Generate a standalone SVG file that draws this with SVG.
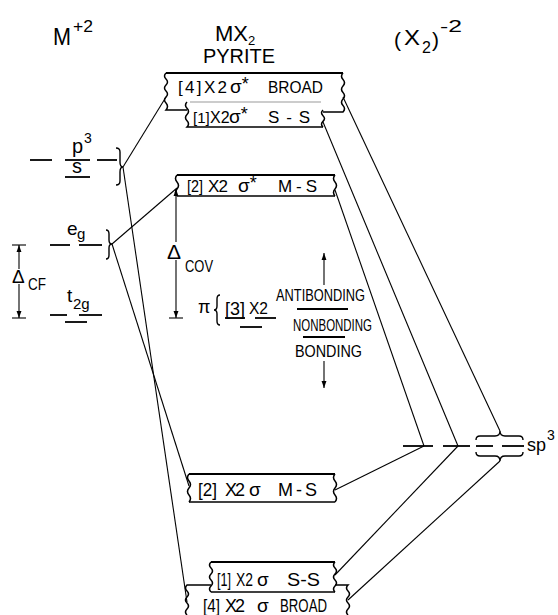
<svg xmlns="http://www.w3.org/2000/svg" width="558" height="615" viewBox="0 0 558 615">
<style>
  text{font-family:"Liberation Sans",Arial,sans-serif;fill:#000}
  .s16{font-size:17px}
  .s17{font-size:18px}
  .sg{font-size:19px}
  .top{stroke:#000;stroke-width:2.2;fill:none}
  .edge{stroke:#000;stroke-width:1.5;fill:none}
  .ln{stroke:#000;stroke-width:1.1;fill:none}
  .lvl{stroke:#000;stroke-width:1.8;fill:none}
  .br{stroke:#000;stroke-width:1.4;fill:none}
</style>
<defs>
  <marker id="ah" viewBox="0 0 8 8" refX="8" refY="4" markerWidth="7" markerHeight="7" markerUnits="userSpaceOnUse" orient="auto">
    <path d="M0,1.2 L8,4 L0,6.8 z" fill="#000"/>
  </marker>
</defs>
<rect width="558" height="615" fill="#fff"/>

<!-- headers -->
<g id="hdr-metal">
  <text x="53" y="45" font-size="24" textLength="18" lengthAdjust="spacingAndGlyphs">M</text>
  <text x="73" y="32" font-size="17" textLength="20" lengthAdjust="spacingAndGlyphs">+2</text>
</g>
<g id="hdr-pyrite">
  <text x="215" y="41" font-size="22">MX<tspan font-size="13" dy="4">2</tspan></text>
  <text x="203" y="63" font-size="20" textLength="72" lengthAdjust="spacingAndGlyphs">PYRITE</text>
</g>
<g id="hdr-anion">
  <text x="394" y="47" font-size="21">(</text>
  <text x="404" y="45" font-size="22" textLength="16" lengthAdjust="spacingAndGlyphs">X</text>
  <text x="422" y="53" font-size="16">2</text>
  <text x="432" y="47" font-size="21">)</text>
  <text x="440" y="32" font-size="17" textLength="22" lengthAdjust="spacingAndGlyphs">-2</text>
</g>

<!-- metal levels -->
<g id="metal-ps">
  <line class="lvl" x1="30" y1="160" x2="52" y2="160"/>
  <line class="lvl" x1="65" y1="160" x2="90" y2="160"/>
  <line class="lvl" x1="97" y1="160" x2="117" y2="160"/>
  <text x="72" y="153" font-size="20">p</text>
  <text x="84" y="143" font-size="14">3</text>
  <text x="72" y="173" font-size="20">s</text>
  <line class="lvl" x1="65" y1="177" x2="90" y2="177"/>
  <path class="br" d="M116,148 Q120,148 120,152 L120,162 Q120,167 123,167 Q120,167 120,172 L120,181 Q120,185 116,185"/>
</g>
<g id="metal-eg">
  <line class="lvl" x1="50" y1="245" x2="70" y2="245"/>
  <line class="lvl" x1="79" y1="245" x2="102" y2="245"/>
  <text x="67" y="235" font-size="19">e</text>
  <text x="77" y="239" font-size="15">g</text>
  <path class="br" d="M106,230 Q109,230 109,234 L109,240 Q109,244 112,244 Q109,244 109,248 L109,255 Q109,259 106,259"/>
</g>
<g id="metal-t2g">
  <line class="lvl" x1="50" y1="315" x2="67" y2="315"/>
  <line class="lvl" x1="79" y1="315" x2="102" y2="315"/>
  <line class="lvl" x1="65" y1="322" x2="87" y2="322"/>
  <text x="67" y="302" font-size="19">t</text>
  <text x="73" y="309" font-size="15">2g</text>
</g>
<g id="delta-cf">
  <line class="ln" x1="12" y1="245" x2="26" y2="245"/>
  <line class="ln" x1="12" y1="318" x2="26" y2="318"/>
  <line class="ln" x1="19" y1="269" x2="19" y2="245" marker-end="url(#ah)"/>
  <line class="ln" x1="19" y1="284" x2="19" y2="318" marker-end="url(#ah)"/>
  <text x="12" y="283" font-size="19">Δ</text>
  <text x="28" y="290" font-size="16" textLength="18" lengthAdjust="spacingAndGlyphs">CF</text>
</g>

<!-- pyrite bands -->
<g id="band-sigma-star-broad">
  <line class="top" x1="166" y1="73" x2="343" y2="73"/>
  <path class="edge" d="M166,73 q-3,3 0,6 q3,3 0,6 q-3,3 0,6 q3,3 0,6 q-3,3 0,6 q3,3.5 0,7 H187"/>
  <path class="edge" d="M343,73 q-3,3.25 0,6.5 q3,3.25 0,6.5 q-3,3.25 0,6.5 q3,3.25 0,6.5 q-3,3.25 0,6.5 q3,3.25 0,6.5 H323"/>
  <text class="s16" x="178" y="93" textLength="49">[4]X2</text>
  <text class="sg" x="230" y="93">σ<tspan font-size="18" dy="-3">*</tspan></text>
  <text class="s16" x="268" y="93" textLength="55" lengthAdjust="spacingAndGlyphs">BROAD</text>
</g>
<g id="band-sigma-star-ss">
  <line x1="190" y1="102" x2="321" y2="102" stroke="#999" stroke-width="1"/>
  <path class="edge" d="M187,102 q-3,3.125 0,6.25 q3,3.125 0,6.25 q-3,3.125 0,6.25 q3,3.125 0,6.25 H323"/>
  <path class="edge" d="M323,110 q-3,2.83 0,5.67 q3,2.83 0,5.67 q-3,2.83 0,5.66"/>
  <text class="s16" y="123"><tspan x="193" font-size="15">[1]</tspan><tspan x="210" font-size="16">X2</tspan><tspan x="229" font-size="19">σ</tspan><tspan font-size="18" dy="-3">*</tspan></text>
  <text class="s16" x="268" y="123" textLength="42">S - S</text>
</g>
<g id="band-sigma-star-ms">
  <line class="top" x1="177" y1="175" x2="335" y2="175"/>
  <line class="edge" x1="177" y1="196" x2="335" y2="196"/>
  <path class="edge" d="M177,175 q-3,3.5 0,7 q3,3.5 0,7 q-3,3.5 0,7"/>
  <path class="edge" d="M335,175 q-3,3.5 0,7 q3,3.5 0,7 q-3,3.5 0,7"/>
  <text class="s16" x="187" y="192" textLength="16" lengthAdjust="spacingAndGlyphs">[2]</text>
  <text class="s16" x="208" y="192" textLength="20">X2</text>
  <text class="sg" x="238" y="192">σ<tspan font-size="18" dy="-3">*</tspan></text>
  <text class="s16" x="278" y="192" textLength="39">M - S</text>
</g>
<g id="delta-cov">
  <line class="ln" x1="169" y1="318" x2="183" y2="318"/>
  <line class="ln" x1="176" y1="242" x2="176" y2="189" marker-end="url(#ah)"/>
  <line class="ln" x1="176" y1="260" x2="176" y2="318" marker-end="url(#ah)"/>
  <text x="167" y="259" font-size="21">Δ</text>
  <text x="185" y="272" font-size="16" textLength="28" lengthAdjust="spacingAndGlyphs">COV</text>
</g>
<g id="band-pi">
  <text x="198" y="313" font-size="18">π</text>
  <path class="br" d="M220,295 Q217,295 217,299 L217,306 Q217,310 214,310 Q217,310 217,314 L217,321 Q217,325 220,325"/>
  <text x="225" y="315" font-size="18" textLength="20" lengthAdjust="spacingAndGlyphs">[3]</text>
  <text x="249" y="314" font-size="17" textLength="19" lengthAdjust="spacingAndGlyphs">X2</text>
  <line class="lvl" x1="225" y1="318" x2="245" y2="318"/>
  <line class="lvl" x1="255" y1="318" x2="276" y2="318"/>
  <line class="lvl" x1="240" y1="327" x2="262" y2="327"/>
  <text x="276" y="301" font-size="16" textLength="89" lengthAdjust="spacingAndGlyphs">ANTIBONDING</text>
  <line class="lvl" x1="297" y1="309" x2="348" y2="309"/>
  <text x="293" y="331" font-size="16" textLength="79" lengthAdjust="spacingAndGlyphs">NONBONDING</text>
  <line class="lvl" x1="303" y1="337" x2="345" y2="337"/>
  <text x="295" y="357" font-size="16" textLength="67" lengthAdjust="spacingAndGlyphs">BONDING</text>
  <line class="ln" x1="324" y1="285" x2="324" y2="253" marker-end="url(#ah)"/>
  <line class="ln" x1="324" y1="361" x2="324" y2="388" marker-end="url(#ah)"/>
</g>
<g id="band-sigma-ms">
  <line class="top" x1="189" y1="474" x2="335" y2="474"/>
  <line class="edge" x1="189" y1="502" x2="335" y2="502"/>
  <path class="edge" d="M189,474 q-3,3.5 0,7 q3,3.5 0,7 q-3,3.5 0,7 q3,3.5 0,7"/>
  <path class="edge" d="M335,474 q-3,3.5 0,7 q3,3.5 0,7 q-3,3.5 0,7 q3,3.5 0,7"/>
  <text class="s17" x="198" y="496" textLength="19" lengthAdjust="spacingAndGlyphs">[2]</text>
  <text class="s17" x="225" y="496" textLength="20">X2</text>
  <text class="sg" x="249" y="496">σ</text>
  <text class="s17" x="278" y="496" textLength="39">M - S</text>
</g>
<g id="band-sigma-ss">
  <line class="top" x1="211" y1="562" x2="335" y2="562"/>
  <line class="edge" x1="211" y1="592" x2="335" y2="592"/>
  <path class="edge" d="M211,562 q-3,3 0,6 q3,3 0,6 q-3,3 0,6 q3,3 0,6 q-3,3 0,6"/>
  <path class="edge" d="M335,562 q-3,3 0,6 q3,3 0,6 q-3,3 0,6 q3,3 0,6 q-3,3 0,6"/>
  <text class="s17" x="217" y="586" textLength="14" lengthAdjust="spacingAndGlyphs">[1]</text>
  <text class="s17" x="236" y="586" textLength="17" lengthAdjust="spacingAndGlyphs">X2</text>
  <text class="sg" x="257" y="586">σ</text>
  <text class="s17" x="287" y="586" textLength="33" lengthAdjust="spacingAndGlyphs">S-S</text>
</g>
<g id="band-sigma-broad">
  <path class="edge" d="M211,585 H187 q-3,3 0,6 q3,3 0,6 q-3,3 0,6 q3,3 0,6 q-3,3 0,6"/>
  <path class="edge" d="M335,585 H348 q-3,3 0,6 q3,3 0,6 q-3,3 0,6 q3,3 0,6 q-3,3 0,6"/>
  <text class="s17" x="203" y="612" textLength="17" lengthAdjust="spacingAndGlyphs">[4]</text>
  <text class="s17" x="225" y="612" textLength="20">X2</text>
  <text class="sg" x="257" y="612">σ</text>
  <text class="s17" x="280" y="612" textLength="47" lengthAdjust="spacingAndGlyphs">BROAD</text>
</g>

<!-- anion levels -->
<g id="anion-sp3">
  <line class="lvl" x1="403" y1="446" x2="433" y2="446"/>
  <line class="lvl" x1="443" y1="446" x2="470" y2="446"/>
  <line class="lvl" x1="476" y1="446" x2="493" y2="446"/>
  <line class="lvl" x1="502" y1="446" x2="524" y2="446"/>
  <path class="br" d="M476,440 Q476,436 480,436 L495,436 Q500,436 500,431 Q500,436 505,436 L519,436 Q523,436 523,440"/>
  <path class="br" d="M476,452 Q476,456 480,456 L495,456 Q500,456 500,461 Q500,456 505,456 L519,456 Q523,456 523,452"/>
  <text x="527" y="451" font-size="18">sp</text>
  <text x="547" y="440" font-size="14">3</text>
</g>

<g id="connectors">
  <line class="ln" x1="123" y1="167" x2="166" y2="97"/>
  <line class="ln" x1="123" y1="167" x2="187" y2="602"/>
  <line class="ln" x1="112" y1="244" x2="177" y2="188"/>
  <line class="ln" x1="112" y1="244" x2="189" y2="486"/>
  <line class="ln" x1="343" y1="97" x2="500" y2="431"/>
  <line class="ln" x1="323" y1="122" x2="458" y2="446"/>
  <line class="ln" x1="335" y1="190" x2="424" y2="446"/>
  <line class="ln" x1="335" y1="490" x2="424" y2="446"/>
  <line class="ln" x1="335" y1="575" x2="458" y2="446"/>
  <line class="ln" x1="348" y1="600" x2="500" y2="461"/>
</g>
</svg>
